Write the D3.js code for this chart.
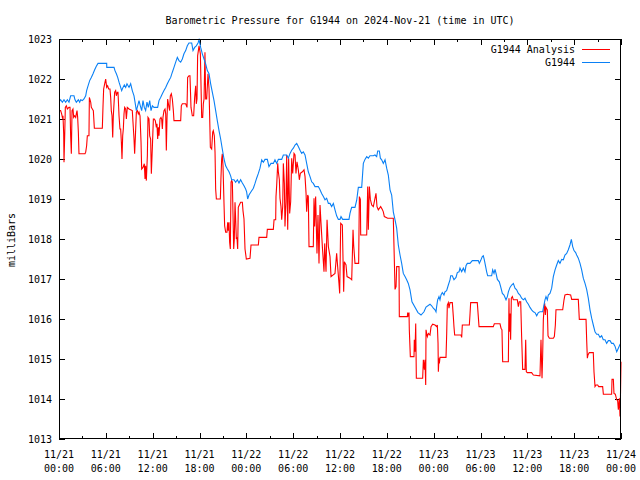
<!DOCTYPE html>
<html><head><meta charset="utf-8">
<script src="https://cdn.jsdelivr.net/npm/d3@7"></script>
<style>
body{margin:0;background:#fff}
text{font-family:"DejaVu Sans Mono","Liberation Mono",monospace;font-size:10px;fill:#000}
</style>
</head><body><svg id="c" width="640" height="480"></svg>
<script>
const titleText = "Barometric Pressure for G1944 on 2024-Nov-21 (time in UTC)";
const yAxisLabel = "milliBars";
const seriesNames = ["G1944 Analysis", "G1944"];
const seriesColors = ["#ff0000", "#0a80f5"];
const startUTC = Date.UTC(2024, 10, 21, 0, 0);
const spanHours = 72;
const yTickValues = [1013,1014,1015,1016,1017,1018,1019,1020,1021,1022,1023];

// "G1944 Analysis" (red): hours since 11/21 00:00 UTC, pressure in mb
const analysisHours = [0.00,0.21,0.34,0.43,0.51,0.60,0.64,0.73,0.81,0.94,1.07,1.28,1.41,1.49,1.58,1.67,1.79,1.88,2.01,2.14,2.22,2.31,2.39,2.48,2.56,3.33,3.42,3.54,3.63,3.84,3.89,4.06,4.14,4.27,4.40,4.53,5.55,5.64,5.72,5.85,5.98,6.11,6.23,6.36,6.53,6.62,6.70,6.79,6.88,6.96,7.13,7.26,7.35,7.47,7.56,7.69,7.81,7.90,7.99,8.07,8.16,8.24,8.33,8.41,8.54,8.63,8.75,8.97,9.39,9.61,9.69,9.78,9.91,10.04,10.16,10.25,10.38,10.51,10.59,10.76,10.93,11.02,11.10,11.19,11.32,11.40,11.53,11.62,11.74,11.83,11.96,12.09,12.21,12.34,12.47,12.55,12.64,12.73,12.81,12.94,13.07,13.15,13.24,13.32,13.45,13.58,13.67,13.75,13.84,13.92,14.09,14.18,14.26,14.39,14.52,14.65,14.73,15.59,15.67,15.80,16.23,16.40,16.48,16.65,16.78,16.91,17.08,17.25,17.38,17.51,17.59,17.68,17.76,17.94,18.11,18.28,18.41,18.49,18.58,18.70,18.79,18.92,19.09,19.22,19.30,19.39,19.56,19.69,19.77,19.90,19.99,20.07,20.16,20.67,20.75,20.84,20.92,21.01,21.14,21.22,21.35,21.52,21.61,21.69,21.78,21.86,21.95,22.04,22.12,22.21,22.38,22.46,22.55,22.63,22.72,22.80,22.89,22.97,23.06,23.27,23.49,23.57,23.70,23.83,24.00,24.47,24.60,25.54,25.62,26.61,26.69,27.46,27.55,27.76,27.80,27.89,28.02,28.10,28.23,28.31,28.44,28.53,28.66,28.74,28.87,28.95,29.08,29.17,29.30,29.42,29.55,29.68,29.81,29.94,30.11,30.24,30.36,30.49,30.66,30.79,30.92,31.18,31.39,31.52,31.65,31.73,31.86,31.94,32.03,32.58,32.67,32.75,32.88,33.05,33.18,33.31,33.44,33.57,33.74,33.95,34.04,34.21,34.34,34.51,34.72,34.85,35.36,35.57,35.70,35.87,35.96,36.09,36.30,36.47,36.56,36.77,36.90,37.28,37.50,37.67,37.75,37.92,38.39,38.48,38.61,38.65,39.42,39.55,39.63,39.72,39.76,39.89,40.06,40.27,40.61,40.74,40.91,41.21,41.42,41.55,41.68,42.11,42.83,43.05,43.18,43.26,43.56,43.60,44.63,44.67,44.76,44.84,44.88,45.01,45.48,45.52,45.61,45.70,45.78,46.59,46.68,46.81,46.89,46.98,47.02,47.10,47.19,47.32,47.53,47.66,47.87,48.17,48.38,48.47,48.56,48.60,48.68,48.73,48.81,49.58,49.67,49.75,49.88,49.96,50.09,50.39,50.52,50.60,50.69,51.50,51.59,51.67,52.57,52.65,52.74,53.59,53.72,53.81,55.64,55.77,56.50,56.63,56.75,56.84,57.57,57.65,57.69,57.78,57.86,57.95,58.08,58.21,58.72,58.85,58.97,59.15,59.27,59.40,59.70,59.79,59.87,60.00,60.55,60.77,61.62,61.75,61.88,61.96,62.05,62.13,62.22,62.31,62.39,62.56,62.65,62.82,63.33,63.46,63.59,63.67,64.53,64.70,64.82,65.12,65.55,65.68,66.53,66.66,67.52,67.60,67.69,67.77,67.94,68.45,68.54,68.67,68.80,69.01,69.14,69.65,69.74,70.80,70.85,71.02,71.10,71.27,71.45,71.57,71.66,71.79,71.87,71.93,72.00];
const analysisMb = [1021.21,1021.21,1021.13,1021.04,1021.08,1020.63,1019.92,1020.58,1021.29,1021.33,1021.25,1021.29,1021.29,1020.58,1020.13,1021.21,1021.25,1021.04,1021.08,1021.04,1021.13,1021.21,1021.04,1020.67,1020.13,1020.13,1020.17,1020.33,1020.58,1020.58,1021.54,1021.42,1021.29,1021.25,1021.21,1020.77,1020.77,1021.33,1021.75,1021.88,1022.00,1021.79,1021.83,1021.75,1021.75,1021.54,1021.21,1021.08,1020.54,1021.08,1021.67,1021.71,1021.58,1021.67,1021.67,1021.08,1020.75,1020.75,1020.42,1020.00,1020.58,1020.75,1021.13,1021.29,1021.25,1021.00,1021.29,1021.25,1021.21,1020.50,1020.13,1020.54,1021.17,1021.21,1021.13,1021.17,1021.08,1020.42,1019.75,1019.79,1019.88,1019.50,1019.83,1019.46,1020.08,1021.04,1021.00,1020.58,1020.50,1019.63,1020.29,1021.00,1021.00,1020.96,1020.79,1020.88,1020.50,1020.79,1020.58,1021.00,1021.04,1021.00,1020.75,1021.04,1021.21,1021.25,1021.13,1020.21,1021.04,1021.50,1021.29,1021.21,1021.58,1021.63,1021.50,1021.21,1020.96,1020.96,1021.33,1021.38,1021.38,1021.29,1022.04,1022.08,1022.08,1021.29,1021.08,1021.08,1021.54,1021.83,1021.38,1021.50,1022.58,1022.83,1022.63,1021.04,1021.04,1021.38,1021.50,1022.67,1021.50,1021.50,1022.13,1021.75,1021.08,1020.29,1020.25,1020.67,1020.71,1020.58,1020.17,1019.25,1019.00,1019.00,1019.54,1020.00,1020.13,1019.83,1018.88,1018.33,1018.17,1018.17,1018.42,1018.21,1018.42,1017.92,1017.75,1019.42,1019.46,1019.42,1017.75,1018.00,1018.92,1018.50,1018.00,1018.04,1017.75,1018.79,1018.83,1018.92,1018.92,1018.71,1018.50,1017.75,1017.50,1017.52,1017.85,1017.85,1018.04,1018.04,1018.24,1018.24,1018.48,1018.48,1019.06,1019.35,1019.89,1019.68,1019.48,1019.02,1018.81,1018.48,1018.81,1019.89,1019.39,1018.31,1018.93,1020.10,1018.23,1020.02,1018.64,1018.93,1020.02,1019.64,1020.14,1020.10,1019.64,1019.93,1019.73,1019.48,1019.64,1019.68,1019.73,1019.56,1019.14,1018.68,1019.10,1019.06,1017.81,1017.81,1019.02,1018.31,1019.06,1017.64,1018.60,1017.39,1018.85,1018.39,1017.81,1017.18,1017.89,1017.18,1018.48,1017.81,1017.56,1017.06,1017.14,1017.64,1017.31,1016.89,1016.64,1018.39,1018.35,1016.68,1017.43,1017.35,1017.06,1017.02,1016.98,1018.23,1017.85,1017.39,1017.39,1019.06,1018.99,1018.10,1018.10,1019.31,1018.23,1018.98,1019.31,1018.99,1018.85,1018.81,1019.14,1018.81,1018.73,1018.81,1018.74,1018.68,1018.56,1018.52,1018.52,1016.74,1016.81,1017.31,1017.31,1016.06,1016.06,1016.16,1016.06,1016.16,1015.73,1015.06,1015.06,1015.48,1015.18,1015.89,1014.52,1014.52,1014.98,1014.73,1014.98,1014.35,1015.73,1015.64,1015.56,1015.64,1015.60,1015.81,1015.87,1015.85,1015.81,1015.85,1015.39,1014.68,1015.02,1014.89,1015.04,1015.04,1015.64,1016.35,1016.41,1016.27,1016.41,1016.41,1016.06,1015.81,1015.60,1015.60,1015.54,1015.85,1015.85,1016.10,1016.41,1016.41,1016.06,1015.81,1015.81,1015.88,1015.88,1015.77,1015.73,1014.93,1014.93,1016.52,1015.68,1016.14,1015.48,1016.52,1016.56,1016.48,1016.48,1016.31,1016.43,1016.43,1015.56,1014.74,1014.74,1015.48,1014.68,1014.66,1014.66,1014.60,1014.58,1015.48,1014.52,1015.06,1015.98,1016.23,1016.39,1016.10,1016.29,1016.23,1015.58,1015.52,1015.52,1015.56,1015.85,1016.23,1016.23,1016.48,1016.60,1016.62,1016.60,1016.49,1016.49,1015.99,1015.99,1015.48,1015.02,1015.10,1015.16,1015.16,1014.68,1014.31,1014.35,1014.35,1014.31,1014.31,1014.12,1014.12,1014.49,1014.49,1014.14,1014.12,1013.98,1013.96,1013.73,1014.02,1013.56,1014.06,1014.93];

// "G1944" (blue): hours since 11/21 00:00 UTC, pressure in mb
const stationHours = [0.00,0.21,0.43,0.64,0.85,1.07,1.28,1.49,1.92,2.05,2.22,2.48,2.65,2.78,2.99,3.20,3.42,3.54,3.72,3.93,4.14,4.36,4.57,4.78,5.00,6.11,6.12,7.05,7.17,7.35,7.52,7.69,7.90,8.03,8.20,8.37,8.54,8.71,8.97,9.18,9.39,9.61,9.74,9.91,10.08,10.25,10.42,10.59,10.76,10.93,11.10,11.27,11.44,11.62,11.79,11.96,12.17,12.64,12.81,13.02,13.24,13.45,13.67,13.88,14.09,14.31,14.52,14.73,14.95,15.16,15.37,15.59,15.80,16.01,16.23,16.44,16.65,17.00,17.17,17.38,17.59,17.81,17.94,18.15,18.36,18.58,18.79,19.00,19.22,19.43,19.64,19.86,20.07,20.28,20.50,20.71,20.92,21.14,21.35,21.57,21.78,21.99,22.12,22.42,22.63,22.85,23.06,23.27,23.49,23.70,23.91,24.04,24.17,24.34,24.60,24.90,25.11,25.32,25.54,25.75,25.97,26.18,26.39,26.69,26.90,27.16,27.46,27.67,27.89,28.10,28.53,28.74,29.17,29.38,29.60,29.81,30.02,30.24,30.45,30.66,30.88,31.09,31.30,31.52,31.73,31.94,32.16,32.37,32.58,32.80,33.22,33.44,33.65,33.87,34.08,34.29,34.51,34.72,34.93,35.15,35.36,35.57,35.79,36.00,36.13,36.34,37.15,37.28,37.49,37.92,38.14,38.35,38.78,38.99,39.20,39.42,39.63,39.84,40.27,40.48,40.70,40.83,41.04,41.17,41.34,41.55,41.77,41.98,42.19,42.41,42.62,42.83,43.05,43.26,43.47,43.69,43.90,44.11,44.33,44.54,44.75,44.97,45.22,45.99,46.38,46.76,47.02,47.53,47.74,47.96,48.17,48.30,48.38,48.51,48.68,48.81,48.94,49.11,49.32,49.45,49.66,49.88,50.09,50.18,50.39,50.60,50.86,51.03,51.25,51.37,51.59,51.80,52.01,52.14,52.31,52.65,52.95,53.72,53.85,54.02,54.23,54.36,54.49,54.66,54.79,54.92,55.43,55.56,55.73,55.86,55.99,56.16,56.41,56.58,56.80,57.01,57.27,57.44,57.57,57.78,57.99,58.21,58.42,58.63,58.85,59.06,59.27,59.49,59.70,59.91,60.13,60.34,60.55,60.77,60.98,61.20,61.41,61.62,61.96,62.13,62.26,62.39,62.56,62.69,62.90,63.12,63.33,63.55,63.76,63.97,64.18,64.40,64.61,64.82,65.04,65.25,65.46,65.64,65.81,65.98,66.19,66.32,66.53,66.75,66.96,67.17,67.39,67.60,67.81,68.03,68.24,68.45,68.67,68.88,69.09,69.31,69.52,69.73,69.95,70.16,70.38,70.59,70.80,71.02,71.23,71.45,71.66,71.88,72.00];
const stationMb = [1021.42,1021.48,1021.42,1021.48,1021.42,1021.48,1021.42,1021.58,1021.58,1021.48,1021.42,1021.48,1021.42,1021.48,1021.46,1021.50,1021.58,1021.71,1021.83,1021.96,1022.04,1022.13,1022.23,1022.32,1022.39,1022.39,1022.29,1022.29,1022.21,1022.13,1022.04,1021.92,1021.79,1021.71,1021.79,1021.85,1021.79,1021.88,1021.79,1021.88,1021.71,1021.58,1021.42,1021.21,1021.33,1021.46,1021.33,1021.21,1021.46,1021.29,1021.21,1021.42,1021.29,1021.46,1021.21,1021.33,1021.29,1021.29,1021.46,1021.54,1021.63,1021.71,1021.79,1021.88,1021.96,1022.04,1022.17,1022.29,1022.42,1022.54,1022.46,1022.42,1022.50,1022.63,1022.71,1022.83,1022.90,1022.90,1022.71,1022.79,1022.83,1022.90,1022.98,1022.79,1022.63,1022.50,1022.38,1022.21,1022.13,1021.88,1021.67,1021.46,1021.21,1020.96,1020.71,1020.50,1020.25,1020.00,1019.83,1019.75,1019.68,1019.58,1019.48,1019.48,1019.42,1019.48,1019.40,1019.48,1019.40,1019.33,1019.25,1019.18,1019.00,1019.10,1019.18,1019.27,1019.39,1019.52,1019.64,1019.77,1019.98,1019.92,1019.99,1019.99,1019.81,1019.89,1019.89,1019.98,1019.89,1019.99,1019.99,1020.10,1020.10,1020.02,1020.14,1020.22,1020.27,1020.35,1020.39,1020.31,1020.22,1020.14,1020.18,1020.10,1019.89,1019.68,1019.56,1019.43,1019.39,1019.31,1019.31,1019.23,1019.14,1019.06,1018.98,1019.02,1018.89,1018.89,1018.81,1018.89,1018.73,1018.58,1018.49,1018.49,1018.56,1018.49,1018.49,1018.64,1018.79,1018.79,1018.97,1019.29,1019.29,1019.89,1019.99,1020.06,1020.02,1020.08,1020.08,1020.10,1020.06,1020.20,1020.20,1020.02,1019.98,1019.89,1019.98,1019.77,1019.60,1019.23,1019.10,1018.68,1018.48,1018.27,1017.85,1017.60,1017.39,1017.14,1017.06,1016.98,1016.89,1016.73,1016.43,1016.16,1016.10,1016.18,1016.30,1016.37,1016.33,1016.27,1016.23,1016.18,1016.31,1016.48,1016.56,1016.48,1016.60,1016.66,1016.60,1016.68,1016.71,1016.85,1016.98,1017.08,1017.08,1016.98,1017.04,1017.16,1017.18,1017.27,1017.18,1017.27,1017.18,1017.33,1017.39,1017.39,1017.46,1017.46,1017.39,1017.46,1017.56,1017.58,1017.48,1017.31,1017.18,1017.08,1017.08,1017.23,1017.14,1017.24,1017.14,1016.99,1016.93,1016.81,1016.64,1016.60,1016.48,1016.56,1016.68,1016.79,1016.85,1016.89,1016.77,1016.73,1016.64,1016.60,1016.52,1016.48,1016.52,1016.43,1016.37,1016.29,1016.23,1016.18,1016.16,1016.08,1016.16,1016.18,1016.18,1016.35,1016.48,1016.56,1016.48,1016.60,1016.64,1016.77,1017.06,1017.23,1017.35,1017.46,1017.39,1017.49,1017.48,1017.60,1017.64,1017.73,1017.85,1017.99,1017.81,1017.71,1017.66,1017.60,1017.52,1017.39,1017.23,1017.02,1016.89,1016.74,1016.52,1016.23,1016.02,1015.85,1015.68,1015.62,1015.62,1015.54,1015.58,1015.48,1015.48,1015.39,1015.46,1015.46,1015.39,1015.39,1015.32,1015.18,1015.27,1015.37,1015.37];

const toDate = h => new Date(startUTC + h * 3600e3);
const analysis = analysisHours.map((h, i) => ({t: toDate(h), v: analysisMb[i]}));
const station = stationHours.map((h, i) => ({t: toDate(h), v: stationMb[i]}));

const W = 640, H = 480;
const L = 59, R = 621, T = 39, B = 439;
const svg = d3.select("#c");

const x = d3.scaleUtc().domain([toDate(0), toDate(spanHours)]).range([L, R]);
const y = d3.scaleLinear().domain([1013, 1023]).range([B, T]);

const majorTimes = d3.utcHour.every(6).range(toDate(0), toDate(spanHours + 0.01));
const minorTimes = d3.utcHour.every(3).range(toDate(0), toDate(spanHours + 0.01)).filter(d => d.getUTCHours() % 6 !== 0);

function styleAxis(g) {
  g.select(".domain").remove();
  g.selectAll(".tick line").attr("stroke", "#000").attr("shape-rendering", "crispEdges");
}

// bottom/top axes (major + minor)
svg.append("g").attr("transform", `translate(0,${B})`)
  .call(d3.axisBottom(x).tickValues(majorTimes).tickSize(-6).tickFormat(""))
  .call(styleAxis);
svg.append("g").attr("transform", `translate(0,${B})`)
  .call(d3.axisBottom(x).tickValues(minorTimes).tickSize(-3).tickFormat(""))
  .call(styleAxis);
svg.append("g").attr("transform", `translate(0,${T})`)
  .call(d3.axisTop(x).tickValues(majorTimes).tickSize(-6).tickFormat(""))
  .call(styleAxis);
svg.append("g").attr("transform", `translate(0,${T})`)
  .call(d3.axisTop(x).tickValues(minorTimes).tickSize(-3).tickFormat(""))
  .call(styleAxis);

// left/right axes
const yl = svg.append("g").attr("transform", `translate(${L},0)`)
  .call(d3.axisLeft(y).tickValues(yTickValues).tickSize(-6).tickPadding(7).tickFormat(d3.format("d")))
  .call(styleAxis);
yl.selectAll("text").attr("font-family", null).attr("font-size", null).attr("fill", null);
svg.append("g").attr("transform", `translate(${R},0)`)
  .call(d3.axisRight(y).tickValues(yTickValues).tickSize(-6).tickFormat(""))
  .call(styleAxis);

// x tick labels in two lines
const fmtDay = d3.utcFormat("%m/%d"), fmtTime = d3.utcFormat("%H:%M");
const xl = svg.append("g").selectAll("g").data(majorTimes).join("g")
  .attr("transform", d => `translate(${x(d)},0)`);
xl.append("text").attr("y", 454).attr("dy", "0.35em").attr("text-anchor", "middle").text(fmtDay);
xl.append("text").attr("y", 468).attr("dy", "0.35em").attr("text-anchor", "middle").text(fmtTime);

// data lines
const line = d3.line().x(d => x(d.t)).y(d => y(d.v));
const clip = svg.append("clipPath").attr("id", "plotclip")
  .append("rect").attr("x", L).attr("y", T - 1).attr("width", R - L + 1).attr("height", B - T + 2);
const series = [analysis, station];
svg.append("g").attr("clip-path", "url(#plotclip)")
  .selectAll("path").data(series).join("path")
  .attr("d", line)
  .attr("fill", "none")
  .attr("stroke", (d, i) => seriesColors[i])
  .attr("stroke-width", 1.1)
  .attr("stroke-linejoin", "miter");

// frame
svg.append("rect").attr("x", L + 0.5).attr("y", T + 0.5)
  .attr("width", R - L - 1).attr("height", B - T - 1)
  .attr("fill", "none").attr("stroke", "#000").attr("shape-rendering", "crispEdges");

// title
svg.append("text").attr("x", 340).attr("y", 20).attr("dy", "0.35em")
  .attr("text-anchor", "middle").text(titleText);

// y axis label
svg.append("text").attr("transform", "translate(11,240) rotate(-90)")
  .attr("dy", "0.35em").attr("text-anchor", "middle").text(yAxisLabel);

// legend
const legend = svg.append("g").selectAll("g").data(seriesNames).join("g")
  .attr("transform", (d, i) => `translate(0,${49.5 + i * 13})`);
legend.append("text").attr("x", 575).attr("dy", "0.35em").attr("text-anchor", "end").text(d => d);
legend.append("line").attr("x1", 582).attr("x2", 610)
  .attr("stroke", (d, i) => seriesColors[i]).attr("stroke-width", 1)
  .attr("shape-rendering", "crispEdges");
</script>
</body></html>
